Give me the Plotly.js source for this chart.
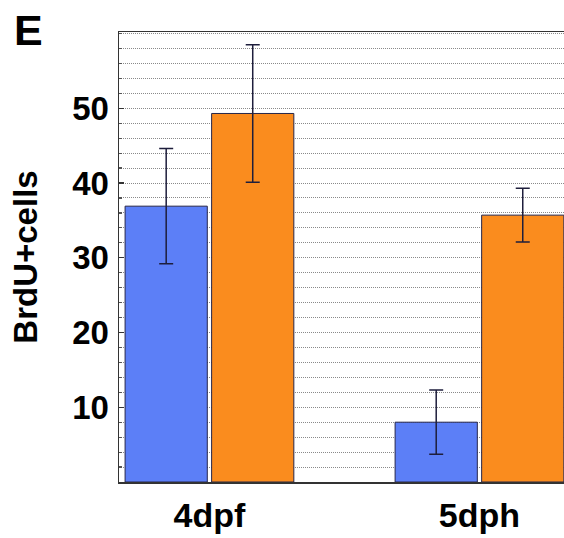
<!DOCTYPE html>
<html>
<head>
<meta charset="utf-8">
<script src="https://cdn.plot.ly/plotly-3.0.1.min.js"></script>
<style>
html,body{margin:0;padding:0;background:#fff;overflow:hidden;}
#chart{width:564px;height:538px;}
</style>
</head>
<body>
<div id="chart"></div>
<script>
// Data
const categories = ["4dpf", "5dph"];
const seriesA = [36.9, 8.0];     // blue bars
const errorsA = [7.7, 4.3];
const seriesB = [49.3, 35.7];    // orange bars
const errorsB = [9.2, 3.6];
const yTickVals = [10, 20, 30, 40, 50];
const yTickText = ["10", "20", "30", "40", "50"];
const panelLabel = "E";
const yTitle = "BrdU+cells";

const barLine = {color: "#26264a", width: 1};
const errStyle = (arr) => ({type: "data", array: arr, visible: true, color: "#1e1e3c", thickness: 1.5, width: 7});

const traces = [
  {type: "bar", x: categories, y: seriesA, error_y: errStyle(errorsA),
   marker: {color: "rgb(92,127,247)", line: barLine}, showlegend: false, hoverinfo: "none"},
  {type: "bar", x: categories, y: seriesB, error_y: errStyle(errorsB),
   marker: {color: "rgb(250,140,30)", line: barLine}, showlegend: false, hoverinfo: "none"}
];

const font = "Liberation Sans, Arial, sans-serif";
const gridDash = "1px,1px";

const layout = {
  width: 564, height: 538,
  margin: {l: 119, r: 0, t: 32, b: 56, pad: 0},
  paper_bgcolor: "#fff", plot_bgcolor: "#fff",
  barmode: "group", bargap: 0.359, bargroupgap: 0.05,
  font: {family: font, color: "#000"},
  xaxis: {
    type: "category", range: [-0.335, 1.313], fixedrange: true,
    showline: true, linecolor: "#333", linewidth: 1.5, mirror: true,
    ticks: "", showgrid: false, zeroline: false,
    tickfont: {family: font, size: 34, weight: "bold", color: "#000"},
    ticklabelstandoff: 3, automargin: false
  },
  yaxis: {
    range: [0, 60.2], fixedrange: true,
    showline: true, linecolor: "#333", linewidth: 1.5, mirror: false,
    tickmode: "array", tickvals: yTickVals, ticktext: yTickText,
    ticks: "inside", ticklen: 5, tickwidth: 1.2, tickcolor: "#333",
    showgrid: true, gridcolor: "#8a8a8a", gridwidth: 1, griddash: gridDash,
    zeroline: false,
    minor: {dtick: 2, tick0: 0, showgrid: true, gridcolor: "#8a8a8a", gridwidth: 1, griddash: gridDash,
            ticks: "inside", ticklen: 3, tickcolor: "#555"},
    tickfont: {family: font, size: 33, weight: "bold", color: "#000"},
    ticklabelstandoff: 2, automargin: false,
    title: {text: yTitle, font: {family: font, size: 33, weight: "bold", color: "#000"}, standoff: 24}
  },
  annotations: [{
    text: panelLabel, xref: "paper", yref: "paper", x: -0.2404, y: 1.0044,
    xanchor: "left", yanchor: "middle", showarrow: false,
    font: {family: font, size: 43, weight: "bold", color: "#000"}
  }]
};

Plotly.newPlot("chart", traces, layout, {staticPlot: true, displayModeBar: false});
</script>
</body>
</html>
